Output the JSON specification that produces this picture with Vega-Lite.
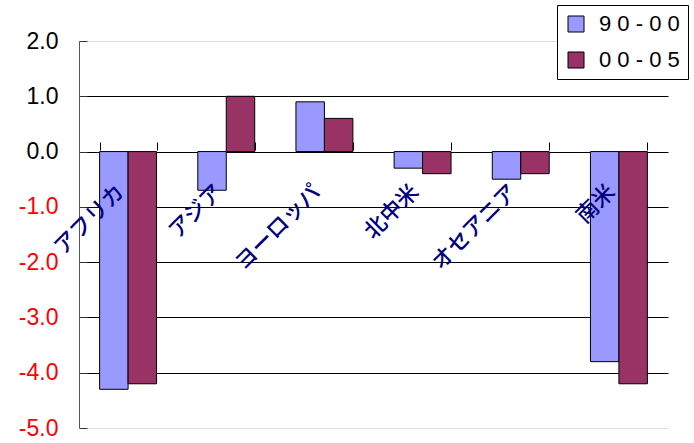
{
  "$schema": "https://vega.github.io/schema/vega-lite/v6.json",
  "width": 589,
  "height": 387,
  "autosize": "none",
  "padding": {"left": 79, "top": 41, "right": 26, "bottom": 15},
  "background": "white",
  "config": {"view": {"stroke": null}},
  "data": {
    "values": [
      {"region": "アフリカ", "period": "9 0 - 0 0", "value": -4.3},
      {"region": "アフリカ", "period": "0 0 - 0 5", "value": -4.2},
      {"region": "アジア", "period": "9 0 - 0 0", "value": -0.7},
      {"region": "アジア", "period": "0 0 - 0 5", "value": 1.0},
      {"region": "ヨーロッパ", "period": "9 0 - 0 0", "value": 0.9},
      {"region": "ヨーロッパ", "period": "0 0 - 0 5", "value": 0.6},
      {"region": "北中米", "period": "9 0 - 0 0", "value": -0.3},
      {"region": "北中米", "period": "0 0 - 0 5", "value": -0.4},
      {"region": "オセアニア", "period": "9 0 - 0 0", "value": -0.5},
      {"region": "オセアニア", "period": "0 0 - 0 5", "value": -0.4},
      {"region": "南米", "period": "9 0 - 0 0", "value": -3.8},
      {"region": "南米", "period": "0 0 - 0 5", "value": -4.2}
    ]
  },
  "mark": {"type": "bar", "stroke": "black", "strokeWidth": 1, "opacity": 1},
  "encoding": {
    "x": {
      "field": "region",
      "type": "nominal",
      "sort": null,
      "title": null,
      "scale": {"paddingInner": 0.42, "paddingOuter": 0.21},
      "axis": {
        "orient": "bottom",
        "offset": -278,
        "domain": false,
        "ticks": true,
        "tickBand": "extent",
        "tickSize": -8,
        "tickColor": "black",
        "labelAngle": -45,
        "labelAlign": "right",
        "labelBaseline": "middle",
        "labelPadding": 46,
        "labelOffset": -8,
        "labelFont": "Noto Sans CJK JP",
        "labelFontSize": 22,
        "labelFontWeight": 500,
        "labelColor": "#000080",
        "labelOverlap": false,
        "labelBound": false,
        "labelLimit": 300,
        "zindex": 1
      }
    },
    "xOffset": {
      "field": "period",
      "type": "nominal",
      "sort": ["9 0 - 0 0", "0 0 - 0 5"],
      "scale": {"paddingInner": 0, "paddingOuter": 0}
    },
    "y": {
      "field": "value",
      "type": "quantitative",
      "title": null,
      "scale": {"domain": [-5, 2], "nice": false, "zero": false},
      "axis": {
        "values": [-5, -4, -3, -2, -1, 0, 1, 2],
        "grid": true,
        "gridColor": {"condition": {"test": "datum.value == 2 || datum.value == -5", "value": "#dddddd"}, "value": "black"},
        "gridOpacity": 1,
        "gridWidth": 1,
        "domainColor": "#555555",
        "tickColor": "#333333",
        "tickSize": -8,
        "labelPadding": 29,
        "labelFont": "Liberation Sans",
        "labelFontSize": 23,
        "labelBaseline": "middle",
        "labelExpr": "datum.value < 0 ? '-' + format(-datum.value, '.1f') : format(datum.value, '.1f')",
        "labelColor": {"condition": {"test": "datum.value < 0", "value": "#ff0000"}, "value": "black"}
      }
    },
    "color": {
      "field": "period",
      "type": "nominal",
      "sort": ["9 0 - 0 0", "0 0 - 0 5"],
      "scale": {"range": ["#9999ff", "#993366"]},
      "legend": {
        "title": null,
        "orient": "none",
        "legendX": 478,
        "legendY": -36,
        "strokeColor": "black",
        "fillColor": "white",
        "padding": 8,
        "symbolType": "square",
        "symbolSize": 256,
        "symbolStrokeColor": "black",
        "symbolStrokeWidth": 1,
        "symbolOpacity": 1,
        "labelFont": "Liberation Sans",
        "labelFontSize": 22,
        "labelColor": "black",
        "labelOffset": 12,
        "rowPadding": 14
      }
    }
  }
}
